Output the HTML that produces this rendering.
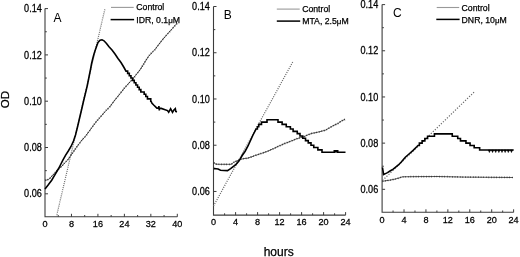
<!DOCTYPE html>
<html><head><meta charset="utf-8"><style>
html,body{margin:0;padding:0;background:#fff;}
svg{display:block;filter:blur(0.3px);}
text{font-family:"Liberation Sans",sans-serif;fill:#000;stroke:#000;stroke-width:0.25px;}
.t9{font-size:8.7px;}
.mu{font-size:8px;}
.tk{font-size:9.4px;}
.t12{font-size:12px;}
.t115{font-size:12px;stroke-width:0;}
.t10{font-size:10.5px;}
.t11{font-size:11px;}
</style></head><body>
<svg width="520" height="257" viewBox="0 0 520 257">
<rect width="520" height="257" fill="#fff"/>
<path d="M45,8.6V216.8H177.30" fill="none" stroke="#3c3c3c" stroke-width="1.1"/>
<path d="M45,193.80h3" stroke="#3c3c3c" stroke-width="1"/>
<text transform="translate(41.8,197.40) scale(0.97,1.07)" text-anchor="end" class="tk">0.06</text>
<path d="M45,170.65h1.8" stroke="#3c3c3c" stroke-width="1"/>
<path d="M45,147.50h3" stroke="#3c3c3c" stroke-width="1"/>
<text transform="translate(41.8,151.10) scale(0.97,1.07)" text-anchor="end" class="tk">0.08</text>
<path d="M45,124.35h1.8" stroke="#3c3c3c" stroke-width="1"/>
<path d="M45,101.20h3" stroke="#3c3c3c" stroke-width="1"/>
<text transform="translate(41.8,104.80) scale(0.97,1.07)" text-anchor="end" class="tk">0.10</text>
<path d="M45,78.05h1.8" stroke="#3c3c3c" stroke-width="1"/>
<path d="M45,54.90h3" stroke="#3c3c3c" stroke-width="1"/>
<text transform="translate(41.8,58.50) scale(0.97,1.07)" text-anchor="end" class="tk">0.12</text>
<path d="M45,31.75h1.8" stroke="#3c3c3c" stroke-width="1"/>
<path d="M45,8.60h3" stroke="#3c3c3c" stroke-width="1"/>
<text transform="translate(41.8,12.20) scale(0.97,1.07)" text-anchor="end" class="tk">0.14</text>
<text transform="translate(45.00,227.0) scale(0.97,1.04)" text-anchor="middle" class="tk">0</text>
<path d="M58.23,216.8v-1.8" stroke="#3c3c3c" stroke-width="1"/>
<path d="M71.46,216.8v-3" stroke="#3c3c3c" stroke-width="1"/>
<text transform="translate(71.46,227.0) scale(0.97,1.04)" text-anchor="middle" class="tk">8</text>
<path d="M84.69,216.8v-1.8" stroke="#3c3c3c" stroke-width="1"/>
<path d="M97.92,216.8v-3" stroke="#3c3c3c" stroke-width="1"/>
<text transform="translate(97.92,227.0) scale(0.97,1.04)" text-anchor="middle" class="tk">16</text>
<path d="M111.15,216.8v-1.8" stroke="#3c3c3c" stroke-width="1"/>
<path d="M124.38,216.8v-3" stroke="#3c3c3c" stroke-width="1"/>
<text transform="translate(124.38,227.0) scale(0.97,1.04)" text-anchor="middle" class="tk">24</text>
<path d="M137.61,216.8v-1.8" stroke="#3c3c3c" stroke-width="1"/>
<path d="M150.84,216.8v-3" stroke="#3c3c3c" stroke-width="1"/>
<text transform="translate(150.84,227.0) scale(0.97,1.04)" text-anchor="middle" class="tk">32</text>
<path d="M164.07,216.8v-1.8" stroke="#3c3c3c" stroke-width="1"/>
<path d="M177.30,216.8v-3" stroke="#3c3c3c" stroke-width="1"/>
<text transform="translate(177.30,227.0) scale(0.97,1.04)" text-anchor="middle" class="tk">40</text>
<text x="53.6" y="22.2" class="t115">A</text>
<polyline points="56.4,216.8 105.0,8.6" fill="none" stroke="#6a6a6a" stroke-width="1.2" stroke-dasharray="1 1.1"/>
<polyline points="45,180.3 47,180 49.3,179 51,177 53,174.9 55.5,172.2 58.5,169 62,166 64.5,163 67.8,159.9 70.5,155.8 73.6,151.5 76.5,147.3 79.5,143.3 82,140 85.3,136.5 89,131.5 93.1,125.8 96,122 99,118.5 103,114 106,110.5 109.7,107 114.5,100.5 119.5,94.3 124.5,88 130.2,81.7 132.5,79.3 135.5,75.5 139.9,70 144,63.5 148.6,56.2 153,51.5 155,49.5 158,45.5 162.3,39.9 167,34.5 172.3,28.7 175,25.6 177.3,23.1" fill="none" stroke="#444" stroke-width="0.9" stroke-linejoin="round"/>
<polyline points="45,180.3 47,180 49.3,179 51,177 53,174.9 55.5,172.2 58.5,169 62,166 64.5,163 67.8,159.9 70.5,155.8 73.6,151.5 76.5,147.3 79.5,143.3 82,140 85.3,136.5 89,131.5 93.1,125.8 96,122 99,118.5 103,114 106,110.5 109.7,107 114.5,100.5 119.5,94.3 124.5,88 130.2,81.7 132.5,79.3 135.5,75.5 139.9,70 144,63.5 148.6,56.2 153,51.5 155,49.5 158,45.5 162.3,39.9 167,34.5 172.3,28.7 175,25.6 177.3,23.1" fill="none" stroke="#222" stroke-width="1.7" stroke-dasharray="0.6 2.0"/>
<path d="M45.00,188.90 L48.50,184.50 L51.70,180.20 L55.00,174.60 L58.30,169.00 L60.40,165.00 L63.00,159.80 L65.50,155.30 L68.30,151.00 L71.00,146.50 L73.50,141.00 L75.50,135.00 L77.50,127.00 L79.50,118.50 L81.50,110.00 L83.50,101.20 L85.50,93.00 L87.30,85.50 L89.20,76.00 L90.50,69.50 L91.60,63.50 L92.80,58.50 L94.00,54.00 L95.80,48.50 L98.00,42.50 L100.00,40.30 L102.00,39.80 L104.00,40.80 L106.50,43.50 L109.00,46.80 L112.00,50.00 L115.00,54.00 L118.00,58.50 L121.00,62.50 L124.00,67.50 L126.00,71.10 H127.65 V73.42 H129.30 V75.73 H130.95 V78.05 H132.60 V80.36 H134.25 V82.68 H135.90 V84.99 H137.55 V87.31 H139.20 V89.62 H140.85 V91.94 H142.50 H144.15 V94.25 H145.80 V96.57 H147.45 V98.88 H149.10 H150.75 V101.20 H151.00 L152.00,103.20 L153.70,105.00 L156.90,108.10 L158.60,108.10 L158.90,106.20 L159.30,110.30 L159.60,108.10 L161.20,108.40 L164.40,109.40 L167.50,110.60 L168.70,112.30 L170.60,108.70 L172.50,112.30 L173.70,110.30 L175.30,108.70 L175.80,111.50 L176.90,112.00" fill="none" stroke="#000" stroke-width="1.6" stroke-linejoin="miter"/>
<path d="M213.5,6.5V215.1H345.60" fill="none" stroke="#3c3c3c" stroke-width="1.1"/>
<path d="M213.5,191.46h3" stroke="#3c3c3c" stroke-width="1"/>
<text transform="translate(209.8,195.06) scale(0.97,1.07)" text-anchor="end" class="tk">0.06</text>
<path d="M213.5,168.34h1.8" stroke="#3c3c3c" stroke-width="1"/>
<path d="M213.5,145.22h3" stroke="#3c3c3c" stroke-width="1"/>
<text transform="translate(209.8,148.82) scale(0.97,1.07)" text-anchor="end" class="tk">0.08</text>
<path d="M213.5,122.10h1.8" stroke="#3c3c3c" stroke-width="1"/>
<path d="M213.5,98.98h3" stroke="#3c3c3c" stroke-width="1"/>
<text transform="translate(209.8,102.58) scale(0.97,1.07)" text-anchor="end" class="tk">0.10</text>
<path d="M213.5,75.86h1.8" stroke="#3c3c3c" stroke-width="1"/>
<path d="M213.5,52.74h3" stroke="#3c3c3c" stroke-width="1"/>
<text transform="translate(209.8,56.34) scale(0.97,1.07)" text-anchor="end" class="tk">0.12</text>
<path d="M213.5,29.62h1.8" stroke="#3c3c3c" stroke-width="1"/>
<path d="M213.5,6.50h3" stroke="#3c3c3c" stroke-width="1"/>
<text transform="translate(209.8,10.10) scale(0.97,1.07)" text-anchor="end" class="tk">0.14</text>
<text transform="translate(213.60,224.5) scale(0.97,1.04)" text-anchor="middle" class="tk">0</text>
<path d="M224.60,215.1v-1.8" stroke="#3c3c3c" stroke-width="1"/>
<path d="M235.60,215.1v-3" stroke="#3c3c3c" stroke-width="1"/>
<text transform="translate(235.60,224.5) scale(0.97,1.04)" text-anchor="middle" class="tk">4</text>
<path d="M246.60,215.1v-1.8" stroke="#3c3c3c" stroke-width="1"/>
<path d="M257.60,215.1v-3" stroke="#3c3c3c" stroke-width="1"/>
<text transform="translate(257.60,224.5) scale(0.97,1.04)" text-anchor="middle" class="tk">8</text>
<path d="M268.60,215.1v-1.8" stroke="#3c3c3c" stroke-width="1"/>
<path d="M279.60,215.1v-3" stroke="#3c3c3c" stroke-width="1"/>
<text transform="translate(279.60,224.5) scale(0.97,1.04)" text-anchor="middle" class="tk">12</text>
<path d="M290.60,215.1v-1.8" stroke="#3c3c3c" stroke-width="1"/>
<path d="M301.60,215.1v-3" stroke="#3c3c3c" stroke-width="1"/>
<text transform="translate(301.60,224.5) scale(0.97,1.04)" text-anchor="middle" class="tk">16</text>
<path d="M312.60,215.1v-1.8" stroke="#3c3c3c" stroke-width="1"/>
<path d="M323.60,215.1v-3" stroke="#3c3c3c" stroke-width="1"/>
<text transform="translate(323.60,224.5) scale(0.97,1.04)" text-anchor="middle" class="tk">20</text>
<path d="M334.60,215.1v-1.8" stroke="#3c3c3c" stroke-width="1"/>
<path d="M345.60,215.1v-3" stroke="#3c3c3c" stroke-width="1"/>
<text transform="translate(345.60,224.5) scale(0.97,1.04)" text-anchor="middle" class="tk">24</text>
<text x="223.7" y="19.4" class="t115">B</text>
<polyline points="213.5,206 292.7,62" fill="none" stroke="#6a6a6a" stroke-width="1.2" stroke-dasharray="1.1 1.2"/>
<polyline points="213.8,162.8 216,164.2 220,164.3 225,164.3 231.3,164.3 233.7,162.4 237,160.8 240.5,159.3 244,158.6 248,158.1 250,157.4 254.3,155.8 261.7,153.3 267,151.5 273.3,148.7 279,146 285,143.4 290,141.5 296.7,138.8 300.5,137.6 304.4,136.5 308,134.8 311.8,133.4 317,132.4 321.2,131.3 325.4,130.2 329.6,127.8 332.8,125.8 338,123.5 341.2,121 345,119.4" fill="none" stroke="#444" stroke-width="0.9" stroke-linejoin="round"/>
<polyline points="213.8,162.8 216,164.2 220,164.3 225,164.3 231.3,164.3 233.7,162.4 237,160.8 240.5,159.3 244,158.6 248,158.1 250,157.4 254.3,155.8 261.7,153.3 267,151.5 273.3,148.7 279,146 285,143.4 290,141.5 296.7,138.8 300.5,137.6 304.4,136.5 308,134.8 311.8,133.4 317,132.4 321.2,131.3 325.4,130.2 329.6,127.8 332.8,125.8 338,123.5 341.2,121 345,119.4" fill="none" stroke="#222" stroke-width="1.7" stroke-dasharray="0.6 2.0"/>
<path d="M213.80,168.60 L216.00,168.80 L218.10,169.00 L220.50,170.20 L224.00,170.50 L227.50,170.60 L230.60,168.60 L233.50,166.30 L236.00,164.30 L239.10,160.80 L242.20,155.50 L245.00,151.50 L248.00,146.00 L250.50,140.50 L253.00,135.00 L255.50,130.20 L256.00,129.04 H257.38 V126.72 H258.75 V124.41 H260.12 H261.50 V122.10 H262.88 H264.25 H265.62 H267.00 V119.79 H268.38 H269.75 H271.12 H272.50 H273.88 H275.25 H276.62 H278.00 V122.10 H279.38 H280.75 H282.12 V124.41 H283.50 H284.88 H286.25 V126.72 H287.62 H289.00 H290.38 V129.04 H291.75 H293.12 V131.35 H294.50 H295.88 H297.25 V133.66 H298.62 H300.00 V135.97 H301.38 H302.75 V138.28 H304.12 H305.50 V140.60 H306.88 H308.25 V142.91 H309.62 H311.00 V145.22 H312.38 H313.75 V147.53 H315.12 H316.50 H317.88 V149.84 H319.25 H320.62 H322.00 V152.16 H322.70 L334.30,152.20 L334.30,150.80 L337.70,150.80 L337.70,152.20 L345.50,152.20" fill="none" stroke="#000" stroke-width="1.6" stroke-linejoin="miter"/>
<rect x="334.3" y="150.4" width="3.4" height="2.2" fill="#000"/>
<path d="M382.1,4.6V212.3H513.62" fill="none" stroke="#3c3c3c" stroke-width="1.1"/>
<path d="M382.1,189.32h3" stroke="#3c3c3c" stroke-width="1"/>
<text transform="translate(378.2,192.92) scale(0.97,1.07)" text-anchor="end" class="tk">0.06</text>
<path d="M382.1,166.23h1.8" stroke="#3c3c3c" stroke-width="1"/>
<path d="M382.1,143.14h3" stroke="#3c3c3c" stroke-width="1"/>
<text transform="translate(378.2,146.74) scale(0.97,1.07)" text-anchor="end" class="tk">0.08</text>
<path d="M382.1,120.05h1.8" stroke="#3c3c3c" stroke-width="1"/>
<path d="M382.1,96.96h3" stroke="#3c3c3c" stroke-width="1"/>
<text transform="translate(378.2,100.56) scale(0.97,1.07)" text-anchor="end" class="tk">0.10</text>
<path d="M382.1,73.87h1.8" stroke="#3c3c3c" stroke-width="1"/>
<path d="M382.1,50.78h3" stroke="#3c3c3c" stroke-width="1"/>
<text transform="translate(378.2,54.38) scale(0.97,1.07)" text-anchor="end" class="tk">0.12</text>
<path d="M382.1,27.69h1.8" stroke="#3c3c3c" stroke-width="1"/>
<path d="M382.1,4.60h3" stroke="#3c3c3c" stroke-width="1"/>
<text transform="translate(378.2,8.20) scale(0.97,1.07)" text-anchor="end" class="tk">0.14</text>
<text transform="translate(382.10,222.5) scale(0.97,1.04)" text-anchor="middle" class="tk">0</text>
<path d="M393.06,212.3v-1.8" stroke="#3c3c3c" stroke-width="1"/>
<path d="M404.02,212.3v-3" stroke="#3c3c3c" stroke-width="1"/>
<text transform="translate(404.02,222.5) scale(0.97,1.04)" text-anchor="middle" class="tk">4</text>
<path d="M414.98,212.3v-1.8" stroke="#3c3c3c" stroke-width="1"/>
<path d="M425.94,212.3v-3" stroke="#3c3c3c" stroke-width="1"/>
<text transform="translate(425.94,222.5) scale(0.97,1.04)" text-anchor="middle" class="tk">8</text>
<path d="M436.90,212.3v-1.8" stroke="#3c3c3c" stroke-width="1"/>
<path d="M447.86,212.3v-3" stroke="#3c3c3c" stroke-width="1"/>
<text transform="translate(447.86,222.5) scale(0.97,1.04)" text-anchor="middle" class="tk">12</text>
<path d="M458.82,212.3v-1.8" stroke="#3c3c3c" stroke-width="1"/>
<path d="M469.78,212.3v-3" stroke="#3c3c3c" stroke-width="1"/>
<text transform="translate(469.78,222.5) scale(0.97,1.04)" text-anchor="middle" class="tk">16</text>
<path d="M480.74,212.3v-1.8" stroke="#3c3c3c" stroke-width="1"/>
<path d="M491.70,212.3v-3" stroke="#3c3c3c" stroke-width="1"/>
<text transform="translate(491.70,222.5) scale(0.97,1.04)" text-anchor="middle" class="tk">20</text>
<path d="M502.66,212.3v-1.8" stroke="#3c3c3c" stroke-width="1"/>
<path d="M513.62,212.3v-3" stroke="#3c3c3c" stroke-width="1"/>
<text transform="translate(513.62,222.5) scale(0.97,1.04)" text-anchor="middle" class="tk">24</text>
<text x="393.0" y="16.9" class="t115">C</text>
<polyline points="382.5,180.5 474.2,92" fill="none" stroke="#6a6a6a" stroke-width="1.2" stroke-dasharray="1.2 1.6"/>
<polyline points="382.5,181.3 386,180.7 389.7,180.2 395.5,179 399,178 402.5,176.8 420,176.6 438,176.5 464.6,177.1 490,177.3 513,177.5" fill="none" stroke="#444" stroke-width="0.9" stroke-linejoin="round"/>
<polyline points="382.5,181.3 386,180.7 389.7,180.2 395.5,179 399,178 402.5,176.8 420,176.6 438,176.5 464.6,177.1 490,177.3 513,177.5" fill="none" stroke="#222" stroke-width="1.7" stroke-dasharray="0.6 2.0"/>
<path d="M382.50,167.50 L383.60,174.50 L385.50,173.60 L387.50,172.60 L390.00,171.00 L393.20,169.10 L398.40,165.00 L401.50,161.80 L405.30,157.20 L409.00,154.00 L413.10,150.40 L417.00,146.50 L418.00,145.45 H419.37 V143.14 H420.74 H422.11 V140.83 H423.48 H424.85 V138.52 H426.22 H427.59 V136.21 H428.96 H430.33 H431.70 H433.07 H434.44 V133.90 H435.81 H437.18 H438.55 H439.92 H441.29 H442.66 H444.03 H445.40 H446.77 H448.14 H449.51 H450.88 H452.25 V136.21 H453.62 H454.99 H456.36 H457.73 V138.52 H459.10 H460.47 V140.83 H461.84 H463.21 H464.58 H465.95 V143.14 H467.32 H468.69 H470.06 V145.45 H471.43 H472.80 H474.17 V147.76 H475.54 H476.91 H478.28 H479.65 V150.07 H481.02 H482.00 L513.70,150.00" fill="none" stroke="#000" stroke-width="1.6" stroke-linejoin="miter"/>
<path d="M488.20,150 L489.40,152.6 L490.60,150Z M491.35,150 L492.55,152.6 L493.75,150Z M494.50,150 L495.70,152.6 L496.90,150Z M497.65,150 L498.85,152.6 L500.05,150Z M500.80,150 L502.00,152.6 L503.20,150Z M503.95,150 L505.15,152.6 L506.35,150Z M507.10,150 L508.30,152.6 L509.50,150Z M510.25,150 L511.45,152.6 L512.65,150Z" fill="#000" stroke="#000" stroke-width="0.5"/>
<path d="M111,7.4H133.7" stroke="#999" stroke-width="1.1"/>
<path d="M110.6,19.6H134.1" stroke="#000" stroke-width="1.5"/>
<text x="136.3" y="10.3" class="t9">Control</text>
<text x="136.3" y="22.6" class="t9">IDR, 0.1<tspan class="mu">μ</tspan>M</text>
<path d="M276.8,9.1H299.7" stroke="#999" stroke-width="1.1"/>
<path d="M276.8,21.1H300.2" stroke="#000" stroke-width="1.5"/>
<text x="302.2" y="12.3" class="t9">Control</text>
<text x="302.2" y="24.3" class="t9">MTA, 2.5<tspan class="mu">μ</tspan>M</text>
<path d="M436.7,7.5H459.2" stroke="#999" stroke-width="1.1"/>
<path d="M436.3,19.4H459.6" stroke="#000" stroke-width="1.5"/>
<text x="461.6" y="10.6" class="t9">Control</text>
<text x="461.6" y="22.8" class="t9">DNR, 10<tspan class="mu">μ</tspan>M</text>
<text text-anchor="middle" class="t10" transform="translate(8.8,99.5) rotate(-90) scale(1.1,1)">OD</text>
<text x="263.7" y="256.2" class="t12">hours</text>
</svg>
</body></html>
